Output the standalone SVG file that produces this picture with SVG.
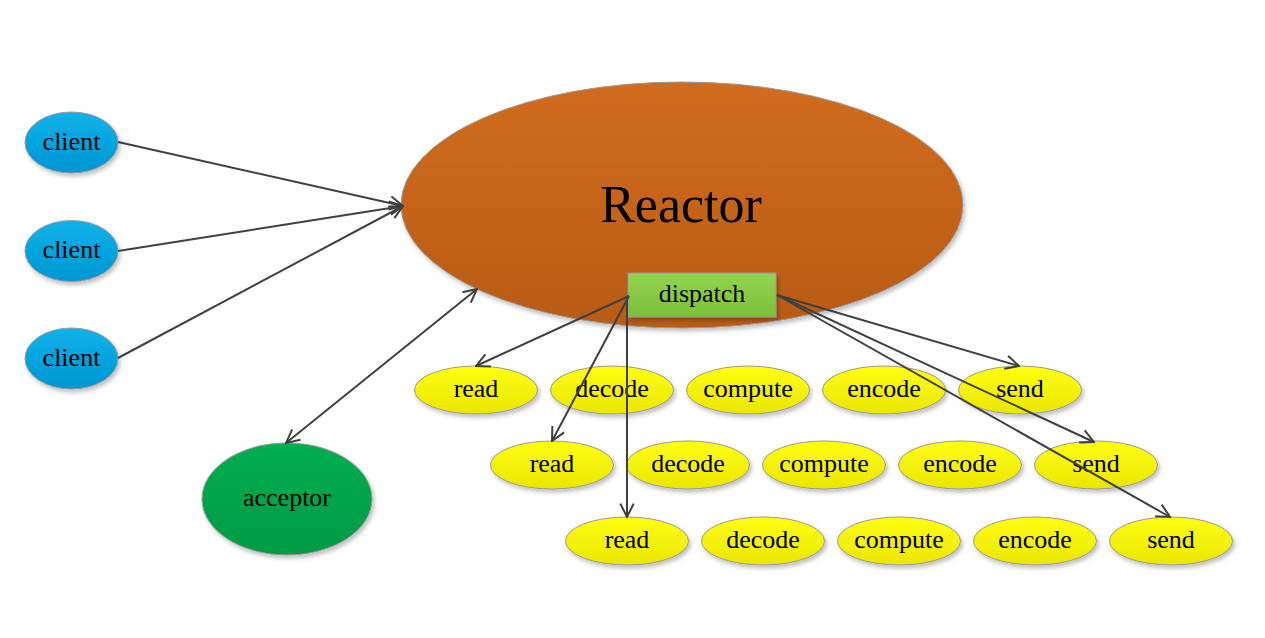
<svg xmlns="http://www.w3.org/2000/svg" width="1265" height="638" viewBox="0 0 1265 638">
<style>
text{font-family:"Liberation Serif","Times New Roman",serif;fill:#000;text-anchor:middle;dominant-baseline:central}
.lbl{font-size:26px}
.big{font-size:52px}
.shape{stroke:#9a9a9a;stroke-width:1;filter:url(#sh)}
.conn{stroke:#404040;stroke-width:2;fill:none;marker-end:url(#arr)}
.both{marker-start:url(#arr)}
</style>
<defs>
<filter id="sh" x="-10%" y="-10%" width="125%" height="130%">
<feDropShadow dx="2" dy="3" stdDeviation="2" flood-color="#000" flood-opacity="0.25"/>
</filter>
<linearGradient id="gBlue" x1="0" y1="0" x2="0" y2="1"><stop offset="0" stop-color="#0AB2EA"/><stop offset="1" stop-color="#0096D2"/></linearGradient>
<linearGradient id="gOrange" x1="0" y1="0" x2="0" y2="1"><stop offset="0" stop-color="#D26C1B"/><stop offset="1" stop-color="#B85B18"/></linearGradient>
<linearGradient id="gGreen" x1="0" y1="0" x2="0" y2="1"><stop offset="0" stop-color="#94D34E"/><stop offset="1" stop-color="#7CC03A"/></linearGradient>
<linearGradient id="gYellow" x1="0" y1="0" x2="0" y2="1"><stop offset="0" stop-color="#FFFF10"/><stop offset="1" stop-color="#EAE600"/></linearGradient>
<linearGradient id="gAcc" x1="0" y1="0" x2="0" y2="1"><stop offset="0" stop-color="#00AE50"/><stop offset="1" stop-color="#009A44"/></linearGradient>
<marker id="arr" viewBox="0 0 12 12" refX="11" refY="6" markerWidth="8" markerHeight="8" orient="auto-start-reverse" markerUnits="strokeWidth">
<path d="M1,1 L11,6 L1,11" fill="none" stroke="#404040" stroke-width="1.5"/>
</marker>
</defs>
<rect width="1265" height="638" fill="#fff"/>

<g id="reactor">
<ellipse class="shape" cx="682" cy="205" rx="281" ry="123" fill="url(#gOrange)"/>
<text class="big" x="681" y="204">Reactor</text>
</g>

<g id="dispatch">
<rect class="shape" x="628" y="273" width="148" height="44" fill="url(#gGreen)"/>
<text class="lbl" x="702" y="293">dispatch</text>
</g>

<g id="client1"><ellipse class="shape" cx="71.5" cy="142.5" rx="46.5" ry="30.5" fill="url(#gBlue)"/><text class="lbl" x="71.5" y="141">client</text></g>
<g id="client2"><ellipse class="shape" cx="71.5" cy="251" rx="46.5" ry="30.5" fill="url(#gBlue)"/><text class="lbl" x="71.5" y="249">client</text></g>
<g id="client3"><ellipse class="shape" cx="71.5" cy="358.5" rx="46.5" ry="30.5" fill="url(#gBlue)"/><text class="lbl" x="71.5" y="357">client</text></g>

<g id="acceptor"><ellipse class="shape" cx="287" cy="499" rx="85" ry="56" fill="url(#gAcc)"/><text class="lbl" x="287" y="497">acceptor</text></g>

<g id="row1">
<g id="read1"><ellipse class="shape" cx="476" cy="390" rx="61.5" ry="24" fill="url(#gYellow)"/><text class="lbl" x="476" y="388">read</text></g>
<g id="decode1"><ellipse class="shape" cx="612" cy="390" rx="61.5" ry="24" fill="url(#gYellow)"/><text class="lbl" x="612" y="388">decode</text></g>
<g id="compute1"><ellipse class="shape" cx="748" cy="390" rx="61.5" ry="24" fill="url(#gYellow)"/><text class="lbl" x="748" y="388">compute</text></g>
<g id="encode1"><ellipse class="shape" cx="884" cy="390" rx="61.5" ry="24" fill="url(#gYellow)"/><text class="lbl" x="884" y="388">encode</text></g>
<g id="send1"><ellipse class="shape" cx="1020" cy="390" rx="61.5" ry="24" fill="url(#gYellow)"/><text class="lbl" x="1020" y="388">send</text></g>
</g>
<g id="row2">
<g id="read2"><ellipse class="shape" cx="552" cy="465" rx="61.5" ry="24" fill="url(#gYellow)"/><text class="lbl" x="552" y="463">read</text></g>
<g id="decode2"><ellipse class="shape" cx="688" cy="465" rx="61.5" ry="24" fill="url(#gYellow)"/><text class="lbl" x="688" y="463">decode</text></g>
<g id="compute2"><ellipse class="shape" cx="824" cy="465" rx="61.5" ry="24" fill="url(#gYellow)"/><text class="lbl" x="824" y="463">compute</text></g>
<g id="encode2"><ellipse class="shape" cx="960" cy="465" rx="61.5" ry="24" fill="url(#gYellow)"/><text class="lbl" x="960" y="463">encode</text></g>
<g id="send2"><ellipse class="shape" cx="1096" cy="465" rx="61.5" ry="24" fill="url(#gYellow)"/><text class="lbl" x="1096" y="463">send</text></g>
</g>
<g id="row3">
<g id="read3"><ellipse class="shape" cx="627" cy="541" rx="61.5" ry="24" fill="url(#gYellow)"/><text class="lbl" x="627" y="539">read</text></g>
<g id="decode3"><ellipse class="shape" cx="763" cy="541" rx="61.5" ry="24" fill="url(#gYellow)"/><text class="lbl" x="763" y="539">decode</text></g>
<g id="compute3"><ellipse class="shape" cx="899" cy="541" rx="61.5" ry="24" fill="url(#gYellow)"/><text class="lbl" x="899" y="539">compute</text></g>
<g id="encode3"><ellipse class="shape" cx="1035" cy="541" rx="61.5" ry="24" fill="url(#gYellow)"/><text class="lbl" x="1035" y="539">encode</text></g>
<g id="send3"><ellipse class="shape" cx="1171" cy="541" rx="61.5" ry="24" fill="url(#gYellow)"/><text class="lbl" x="1171" y="539">send</text></g>
</g>

<g id="connectors">
<line class="conn" x1="118" y1="142" x2="403" y2="206"/>
<line class="conn" x1="118" y1="251" x2="403" y2="206"/>
<line class="conn" x1="118" y1="358" x2="403" y2="206"/>
<line class="conn both" x1="286" y1="443" x2="477" y2="289"/>
<line class="conn" x1="629" y1="296" x2="476" y2="366"/>
<line class="conn" x1="629" y1="296" x2="552" y2="441"/>
<line class="conn" x1="627" y1="298" x2="627" y2="517"/>
<line class="conn" x1="777" y1="295" x2="1019" y2="366"/>
<line class="conn" x1="777" y1="295" x2="1094" y2="442"/>
<line class="conn" x1="777" y1="295" x2="1170" y2="517"/>
</g>
</svg>
